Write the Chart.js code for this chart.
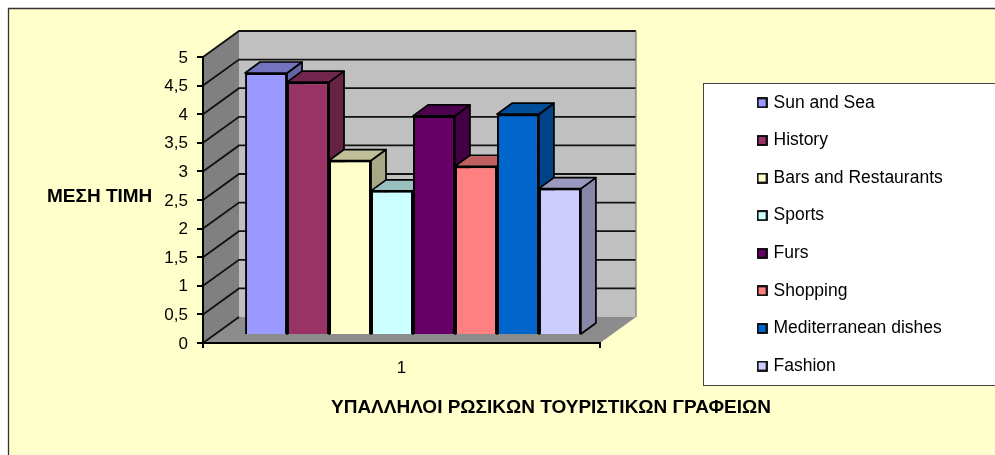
<!DOCTYPE html>
<html>
<head>
<meta charset="utf-8">
<style>html,body{margin:0;padding:0;background:#fff;overflow:hidden}canvas{display:block}</style>
<script src="https://cdn.jsdelivr.net/npm/chart.js@4/dist/chart.umd.min.js"></script>
</head>
<body>
<canvas id="c" width="995" height="455"></canvas>
<script>
const categories = ['1'];
const seriesNames = ['Sun and Sea','History','Bars and Restaurants','Sports','Furs','Shopping','Mediterranean dishes','Fashion'];
const seriesValues = [4.58,4.42,3.05,2.52,3.83,2.95,3.86,2.56];
const seriesColors = ['#9999FF','#993366','#FFFFCC','#CCFFFF','#660066','#FF8080','#0066CC','#CCCCFF'];
const yAxisTitle = 'ΜΕΣΗ ΤΙΜΗ';
const xAxisTitle = 'ΥΠΑΛΛΗΛΟΙ ΡΩΣΙΚΩΝ ΤΟΥΡΙΣΤΙΚΩΝ ΓΡΑΦΕΙΩΝ';

const FONT = '"Liberation Sans", Arial, sans-serif';
const WALL = {dx:36, dy:26}, PLANE = {dx:11.5, dy:8}, DEPTH = {dx:15, dy:11};

function shade(hex, k){
  const n = parseInt(hex.slice(1),16);
  const f = s => Math.round(((n>>s)&255)*k);
  return `rgb(${f(16)},${f(8)},${f(0)})`;
}
function marker(color){
  const m = document.createElement('canvas');
  m.width = 11; m.height = 11;
  const g = m.getContext('2d');
  g.fillStyle = color; g.fillRect(1,1,9,9);
  g.strokeStyle = '#000'; g.lineWidth = 1.8; g.strokeRect(1,1,9,9);
  return m;
}
function poly(ctx, pts, fill, stroke, lw){
  ctx.beginPath();
  pts.forEach((p,i)=> i ? ctx.lineTo(p[0],p[1]) : ctx.moveTo(p[0],p[1]));
  ctx.closePath();
  if(fill){ctx.fillStyle=fill;ctx.fill();}
  if(stroke){ctx.strokeStyle=stroke;ctx.lineWidth=lw||1;ctx.lineJoin='round';ctx.stroke();}
}

const stage = {
  id:'stage',
  afterLayout(chart){
    const l = chart.legend;
    l.update(290, 420, {left:0,top:0,right:0,bottom:0});
    l.left = 739.4; l.right = 1030; l.top = 74; l.bottom = 420;
    l.adjustHitBoxes();
  },
  beforeDraw(chart){
    const {ctx, chartArea:a, scales:{y}} = chart;
    ctx.save();
    ctx.fillStyle='#fff'; ctx.fillRect(0,0,995,455);
    ctx.fillStyle='#FFFFCC'; ctx.fillRect(8,8,990,450);
    ctx.strokeStyle='#333'; ctx.lineWidth=1.3;
    ctx.beginPath(); ctx.moveTo(8.5,458); ctx.lineTo(8.5,8.5); ctx.lineTo(998,8.5); ctx.stroke();
    // legend panel
    ctx.fillStyle='#fff'; ctx.fillRect(703.5,83.5,300,302);
    ctx.strokeStyle='#444'; ctx.lineWidth=1; ctx.strokeRect(703.5,83.5,300,302);
    // walls and floor
    const L=a.left,R=a.right,T=y.getPixelForValue(5),B=y.getPixelForValue(0);
    poly(ctx,[[L+WALL.dx,T-WALL.dy],[R+WALL.dx,T-WALL.dy],[R+WALL.dx,B-WALL.dy],[L+WALL.dx,B-WALL.dy]],'#C0C0C0');
    poly(ctx,[[L,T],[L+WALL.dx,T-WALL.dy],[L+WALL.dx,B-WALL.dy],[L,B]],'#808080');
    poly(ctx,[[L,B],[R,B],[R+WALL.dx,B-WALL.dy],[L+WALL.dx,B-WALL.dy]],'#8C8C8C');
    ctx.strokeStyle='#111'; ctx.lineWidth=1.8;
    y.ticks.forEach(t=>{
      const p=y.getPixelForValue(t.value);
      ctx.beginPath();
      ctx.moveTo(L,p); ctx.lineTo(L+WALL.dx,p-WALL.dy);
      if(t.value>0) ctx.lineTo(R+WALL.dx,p-WALL.dy);
      ctx.stroke();
    });
    ctx.strokeStyle='#777'; ctx.lineWidth=1.2;
    ctx.beginPath(); ctx.moveTo(R+WALL.dx,T-WALL.dy); ctx.lineTo(R+WALL.dx,B-WALL.dy); ctx.stroke();
    ctx.restore();
  },
  beforeDatasetsDraw(chart){
    const ctx = chart.ctx;
    ctx.save();
    ctx.translate(PLANE.dx,-PLANE.dy);
    chart.data.datasets.forEach((ds,i)=>{
      const b = chart.getDatasetMeta(i).data[0];
      const x1=b.x+b.width/2, y0=b.y, y1=b.base, x0=b.x-b.width/2;
      poly(ctx,[[x1,y0],[x1+DEPTH.dx,y0-DEPTH.dy],[x1+DEPTH.dx,y1-DEPTH.dy],[x1,y1]],shade(ds.backgroundColor,.66),'#000',1.7);
      poly(ctx,[[x0,y0],[x0+DEPTH.dx,y0-DEPTH.dy],[x1+DEPTH.dx,y0-DEPTH.dy],[x1,y0]],shade(ds.backgroundColor,.75),'#000',1.7);
    });
  },
  afterDatasetsDraw(chart){
    const ctx = chart.ctx;
    ctx.restore();
    ctx.save();
    ctx.fillStyle='#000';
    ctx.font='bold 19px '+FONT;
    ctx.textBaseline='middle';
    ctx.textAlign='left';
    ctx.fillText(yAxisTitle,47,197);
    ctx.textAlign='center';
    ctx.fillText(xAxisTitle,551,407.5);
    ctx.restore();
  }
};

new Chart(document.getElementById('c'),{
  type:'bar',
  data:{
    labels:categories,
    datasets:seriesNames.map((name,i)=>({
      label:name,
      data:[seriesValues[i]],
      backgroundColor:seriesColors[i],
      borderColor:'#000',
      borderWidth:2,
      categoryPercentage:.846,
      barPercentage:1
    }))
  },
  plugins:[stage],
  options:{
    responsive:false,
    animation:false,
    devicePixelRatio:1,
    layout:{padding:{left:0,top:57,right:395,bottom:0}},
    scales:{
      x:{
        afterFit(s){s.height=112;},
        grid:{display:true,drawOnChartArea:false,drawTicks:true,color:'#000',lineWidth:2,tickLength:5},
        border:{display:true,color:'#000',width:2},
        ticks:{color:'#000',font:{family:FONT,size:17},padding:10,maxRotation:0}
      },
      y:{
        min:0,max:5,
        afterFit(s){s.width=203;},
        grid:{display:true,drawOnChartArea:false,drawTicks:true,color:'#000',lineWidth:2,tickLength:6},
        border:{display:true,color:'#000',width:2},
        ticks:{stepSize:.5,color:'#000',font:{family:FONT,size:17},padding:9,labelOffset:1,
          callback:v=>String(v).replace('.',',')}
      }
    },
    plugins:{
      title:{display:false},
      tooltip:{enabled:false},
      legend:{
        display:true,
        position:'chartArea',
        align:'start',
        labels:{
          color:'#000',
          font:{family:FONT,size:17.5},
          padding:20.1,
          boxWidth:5.25,boxHeight:5.25,
          usePointStyle:true,
          generateLabels(chart){
            return Chart.defaults.plugins.legend.labels.generateLabels(chart).map((it,i)=>Object.assign(it,{pointStyle:marker(seriesColors[i])}));
          }
        }
      }
    }
  }
});
</script>
</body>
</html>
